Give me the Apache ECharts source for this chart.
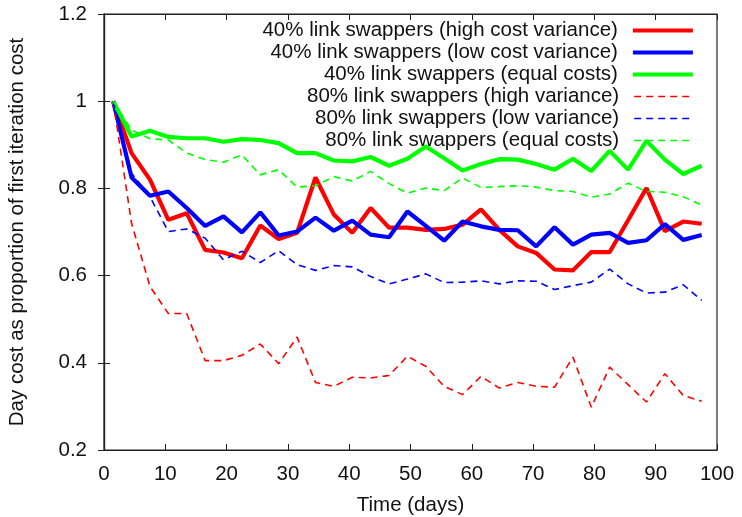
<!DOCTYPE html>
<html>
<head>
<meta charset="utf-8">
<script src="https://cdn.jsdelivr.net/npm/echarts@6/dist/echarts.min.js"></script>
<style>
  html, body { margin: 0; padding: 0; background: #fff; }
  #chart { width: 742px; height: 517px; }
</style>
</head>
<body>
<div id="chart"></div>
<script>
// Sample days (one measurement every 3 days)
const days = [1.5, 4.5, 7.5, 10.5, 13.5, 16.5, 19.5, 22.5, 25.5, 28.5, 31.5, 34.5, 37.5, 40.5, 43.5, 46.5,
  49.5, 52.5, 55.5, 58.5, 61.5, 64.5, 67.5, 70.5, 73.5, 76.5, 79.5, 82.5, 85.5, 88.5, 91.5, 94.5, 97.5];

const seriesNames = [
  '40% link swappers (high cost variance)',
  '40% link swappers (low cost variance)',
  '40% link swappers (equal costs)',
  '80% link swappers (high variance)',
  '80% link swappers (low variance)',
  '80% link swappers (equal costs)'
];

const high40 = [1.0, 0.881, 0.820, 0.728, 0.743, 0.659, 0.653, 0.640, 0.715, 0.684, 0.698, 0.825,
  0.740, 0.698, 0.755, 0.710, 0.710, 0.705, 0.707, 0.717, 0.752, 0.705, 0.667, 0.652, 0.614, 0.612,
  0.654, 0.654, 0.727, 0.801, 0.702, 0.724, 0.719];
const low40 = [1.0, 0.825, 0.783, 0.793, 0.755, 0.714, 0.736, 0.699, 0.745, 0.692, 0.701, 0.733,
  0.703, 0.726, 0.694, 0.688, 0.747, 0.714, 0.680, 0.724, 0.713, 0.705, 0.704, 0.667, 0.711, 0.671,
  0.694, 0.698, 0.675, 0.681, 0.718, 0.682, 0.693];
const equal40 = [1.0, 0.919, 0.932, 0.918, 0.915, 0.915, 0.907, 0.913, 0.911, 0.904, 0.881, 0.881,
  0.864, 0.862, 0.872, 0.852, 0.868, 0.896, 0.869, 0.841, 0.856, 0.867, 0.866, 0.856, 0.843, 0.868,
  0.840, 0.886, 0.843, 0.909, 0.866, 0.833, 0.852];
const high80 = [1.0, 0.720, 0.575, 0.513, 0.513, 0.405, 0.405, 0.417, 0.443, 0.398, 0.459, 0.355,
  0.346, 0.367, 0.365, 0.371, 0.415, 0.392, 0.346, 0.327, 0.369, 0.342, 0.355, 0.346, 0.344, 0.413,
  0.298, 0.390, 0.350, 0.310, 0.375, 0.325, 0.312];
const low80 = [1.0, 0.835, 0.781, 0.701, 0.707, 0.686, 0.636, 0.656, 0.630, 0.657, 0.625, 0.612,
  0.623, 0.620, 0.598, 0.581, 0.592, 0.604, 0.584, 0.585, 0.588, 0.581, 0.588, 0.587, 0.568, 0.577,
  0.585, 0.615, 0.581, 0.560, 0.562, 0.579, 0.543];
const equal80 = [1.0, 0.934, 0.914, 0.911, 0.881, 0.866, 0.860, 0.877, 0.831, 0.843, 0.803, 0.806,
  0.827, 0.817, 0.839, 0.811, 0.789, 0.801, 0.795, 0.824, 0.802, 0.804, 0.806, 0.803, 0.795, 0.793,
  0.780, 0.787, 0.812, 0.793, 0.791, 0.781, 0.762];

const xTicks = { min: 0, max: 100, interval: 10 };
const yTicks = { min: 0.2, max: 1.2, interval: 0.2 };

const valuesList = [high40, low40, equal40, high80, low80, equal80];
const colors = ['#ff0000', '#0000ff', '#00ff00', '#ff0000', '#0000ff', '#00ff00'];
const FONT = 'Liberation Sans, Arial, sans-serif';
const FONT_SIZE = 20.5;

const styleFor = (i) => i < 3
  ? { color: colors[i], width: 4.2, type: 'solid' }
  : { color: colors[i], width: 1.6, type: [7, 5] };

const series = valuesList.map((vals, i) => ({
  name: seriesNames[i],
  type: 'line',
  symbol: 'none',
  data: days.map((d, j) => [d, vals[j]]),
  lineStyle: styleFor(i),
  itemStyle: { color: colors[i] },
  z: 2 + i
}));

// One legend per row so every entry is right-aligned, key sample on the right
const legends = seriesNames.map((name, i) => ({
  data: [name],
  right: 47,
  top: 20 + i * 22,
  padding: 0,
  align: 'right',
  itemWidth: 60,
  itemHeight: 12,
  selectedMode: false,
  itemStyle: { opacity: 0, borderWidth: 0 },
  lineStyle: { width: styleFor(i).width },
  textStyle: { fontFamily: FONT, fontSize: FONT_SIZE, color: '#111', padding: [0, 10, 0, 0] }
}));

const axisLine = { show: true, lineStyle: { color: '#222', width: 1.2 } };
const tickStyle = { show: true, inside: true, length: 6, lineStyle: { color: '#222', width: 1 } };
const labelStyle = { fontFamily: FONT, fontSize: FONT_SIZE, color: '#111' };

const chart = echarts.init(document.getElementById('chart'), null, { renderer: 'canvas' });
chart.setOption({
  animation: false,
  backgroundColor: '#fff',
  legend: legends,
  grid: {
    left: 104, right: 25, top: 14, bottom: 67,
    outerBoundsMode: 'none', containLabel: false,
    show: true, borderColor: '#222', borderWidth: 1.2
  },
  xAxis: [{
    type: 'value', min: xTicks.min, max: xTicks.max, interval: xTicks.interval,
    position: 'bottom',
    name: 'Time (days)', nameLocation: 'middle', nameGap: 45,
    nameTextStyle: labelStyle,
    axisLine, axisTick: tickStyle, splitLine: { show: false },
    axisLabel: Object.assign({ margin: 14 }, labelStyle)
  }, {
    type: 'value', min: xTicks.min, max: xTicks.max, interval: xTicks.interval,
    position: 'top',
    axisLine, axisTick: tickStyle, splitLine: { show: false }, axisLabel: { show: false }
  }],
  yAxis: [{
    type: 'value', min: yTicks.min, max: yTicks.max, interval: yTicks.interval,
    position: 'left',
    name: 'Day cost as proportion of first iteration cost', nameLocation: 'middle', nameGap: 76,
    nameTextStyle: labelStyle,
    axisLine, axisTick: tickStyle, splitLine: { show: false },
    axisLabel: Object.assign({ margin: 17 }, labelStyle)
  }, {
    type: 'value', min: yTicks.min, max: yTicks.max, interval: yTicks.interval,
    position: 'right',
    axisLine, axisTick: tickStyle, splitLine: { show: false }, axisLabel: { show: false }
  }],
  series
});
</script>
</body>
</html>
